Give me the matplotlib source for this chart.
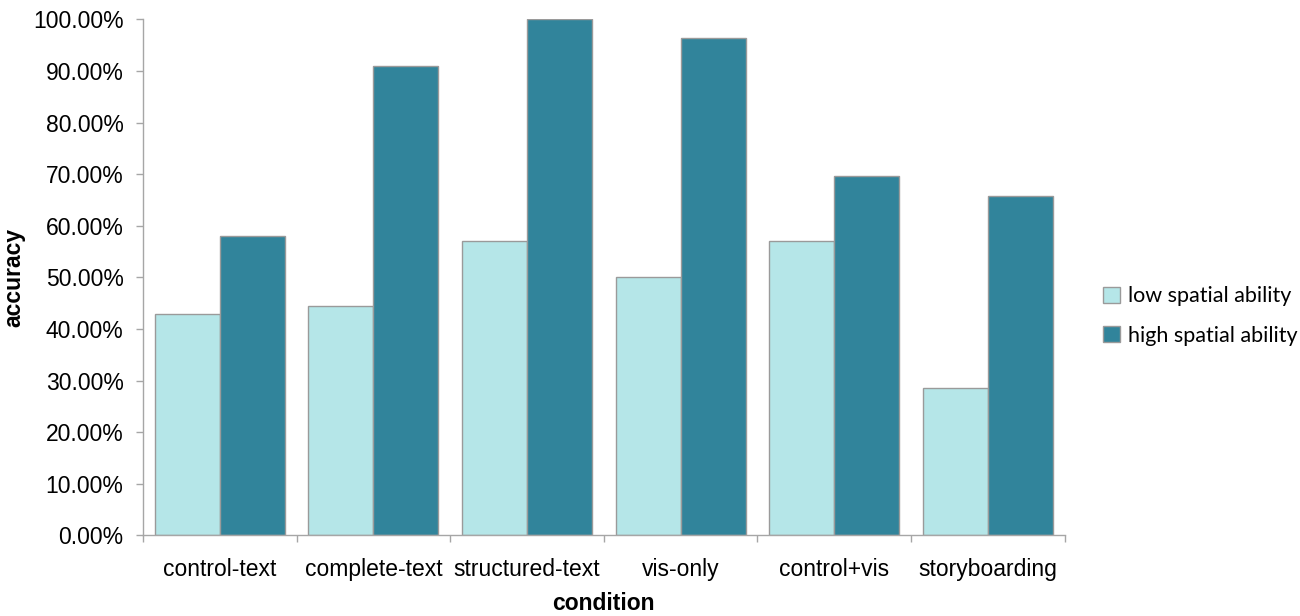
import matplotlib
matplotlib.use('Agg')
import matplotlib.pyplot as plt
import numpy as np
from matplotlib.ticker import FuncFormatter, FixedLocator
from matplotlib.patches import Patch

plt.rcParams['font.family'] = ['Liberation Sans', 'DejaVu Sans']

conditions = ['control-text', 'complete-text', 'structured-text',
              'vis-only', 'control+vis', 'storyboarding']
low_spatial = [0.4286, 0.4444, 0.5714, 0.50, 0.5714, 0.2857]
high_spatial = [0.581, 0.9091, 1.00, 0.963, 0.696, 0.657]
series_names = ['low spatial ability', 'high spatial ability']

c_low = '#b5e6e8'
c_high = '#31849b'
edge = '#9a9a9a'
spine_c = '#a6a6a6'

fig = plt.figure(figsize=(13, 6.16), dpi=100)
ax = fig.add_axes([0.110, 0.1307, 0.709, 0.838])

x = np.arange(len(conditions))
w = 0.423
ax.bar(x - w/2, low_spatial, w, color=c_low, edgecolor=edge, linewidth=1)
ax.bar(x + w/2, high_spatial, w, color=c_high, edgecolor=edge, linewidth=1)

ax.set_xlim(-0.5, len(conditions) - 0.5)
ax.set_ylim(0, 1.0)
ax.yaxis.set_major_locator(FixedLocator(np.arange(0, 1.01, 0.1)))
ax.yaxis.set_major_formatter(FuncFormatter(lambda v, p: '%.2f%%' % (v * 100)))

# category labels centred, tick marks at the group boundaries
ax.set_xticks(np.arange(-0.5, len(conditions), 1.0))
ax.set_xticklabels([])
ax.set_xticks(x, minor=True)
ax.set_xticklabels(conditions, minor=True, fontsize=16.5)
ax.tick_params(axis='x', which='minor', length=0, pad=16)
ax.tick_params(axis='x', which='major', length=5, color=spine_c, width=1)
ax.tick_params(axis='y', length=5, color=spine_c, width=1, labelsize=16.5, pad=9)

for s in ['top', 'right']:
    ax.spines[s].set_visible(False)
for s in ['left', 'bottom']:
    ax.spines[s].set_color(spine_c)
    ax.spines[s].set_linewidth(1)

ax.set_ylabel('accuracy', fontsize=16.5, fontweight='bold')
ax.yaxis.set_label_coords(-0.128, 0.5)
ax.set_xlabel('condition', fontsize=16.5, fontweight='bold', labelpad=8)

handles = [Patch(facecolor=c_low, edgecolor=edge),
           Patch(facecolor=c_high, edgecolor=edge)]
ax.legend(handles, series_names, loc='center left',
          bbox_to_anchor=(1.021, 0.425), frameon=False,
          prop={'family': ['Lato', 'DejaVu Sans'], 'size': 15.5},
          handlelength=0.75, handleheight=0.75, handletextpad=0.4,
          labelspacing=0.9)

fig.savefig('out.png', dpi=100)
